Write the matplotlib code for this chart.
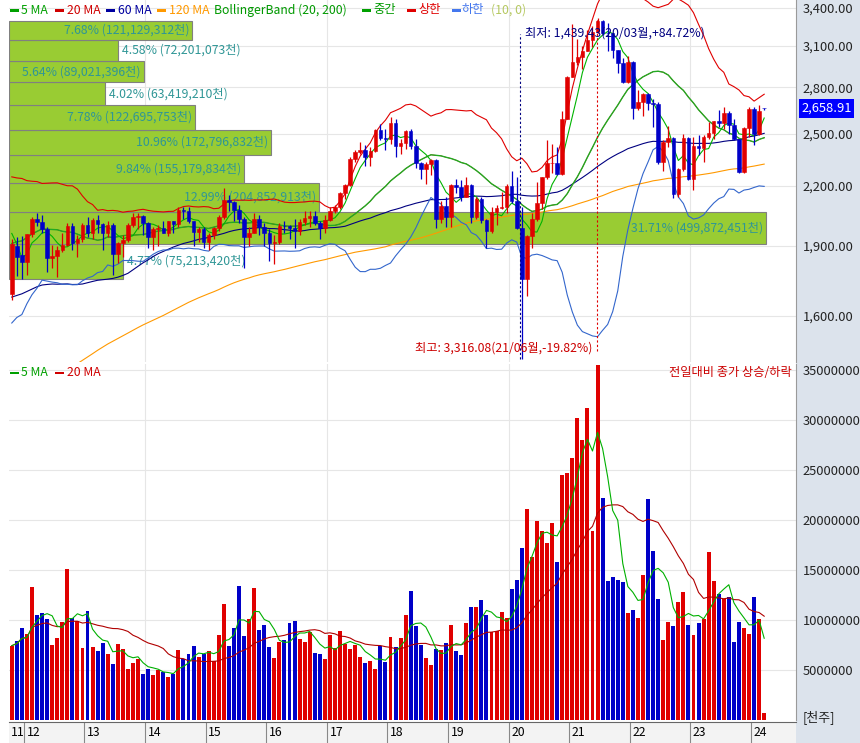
import matplotlib
matplotlib.use('Agg')
import matplotlib.pyplot as plt
from matplotlib.patches import Rectangle
import matplotlib.transforms as mtransforms
from matplotlib.ticker import FixedLocator, FuncFormatter, NullLocator
import numpy as np
import pandas as pd

plt.rcParams['font.family'] = ['Noto Sans CJK KR', 'DejaVu Sans']

# monthly closes before the first shown candle (2001/10 - 2011/09), only used for the long averages
history_close = [
    563, 672, 694,
    752, 818, 880, 871, 796, 743, 716, 719, 646, 672, 685, 628,
    591, 575, 535, 599, 634, 669, 707, 759, 697, 780, 796, 810,
    848, 880, 883, 862, 771, 785, 735, 803, 835, 834, 878, 896,
    932, 1011, 965, 912, 970, 1008, 1111, 1084, 1221, 1158, 1297, 1379,
    1399, 1371, 1360, 1420, 1318, 1295, 1298, 1352, 1371, 1364, 1432, 1434,
    1360, 1417, 1453, 1542, 1700, 1743, 1933, 1873, 1946, 2065, 1906, 1897,
    1625, 1712, 1704, 1825, 1852, 1674, 1595, 1474, 1448, 1113, 1076, 1124,
    1162, 1063, 1206, 1369, 1395, 1390, 1557, 1591, 1673, 1581, 1555, 1682,
    1602, 1594, 1692, 1741, 1641, 1698, 1759, 1742, 1872, 1882, 1904, 2051,
    2069, 1939, 2107, 2192, 2142, 2101, 2133, 1880, 1770,
]

months = pd.period_range('2011-10', '2024-03', freq='M')

opens = [
    1690, 1900, 1860,
    1826, 1955, 2030, 2014, 1981, 1843, 1854, 1881, 1905, 1996, 1912, 1932,
    1997, 1961, 2026, 2005, 1963, 2001, 1863, 1914, 1926, 1997, 2039, 2044,
    2011, 1941, 1980, 1985, 1961, 2017, 2002, 2076, 2068, 2020, 1964, 1981,
    1916, 1949, 1986, 2041, 2127, 2115, 2074, 2030, 1941, 1963, 2029, 1992,
    1961, 1912, 1917, 1996, 1994, 1983, 1970, 2016, 2034, 2043, 2008, 1983,
    2026, 2067, 2091, 2160, 2205, 2347, 2392, 2402, 2363, 2394, 2523, 2476,
    2467, 2566, 2427, 2445, 2515, 2423, 2326, 2295, 2322, 2343, 2030, 2097,
    2041, 2204, 2195, 2141, 2204, 2041, 2130, 2024, 1968, 2063, 2083, 2087,
    2197, 2119, 1987, 1754, 1947, 2030, 2108, 2249, 2326, 2327, 2267, 2591,
    2873, 2976, 3013, 3061, 3147, 3204, 3297, 3202, 3199, 3069, 2971, 2839,
    2977, 2663, 2699, 2757, 2695, 2686, 2333, 2452, 2472, 2155, 2294, 2473,
    2236, 2425, 2413, 2477, 2501, 2577, 2564, 2632, 2556, 2465, 2278, 2535,
    2655, 2497, 2660,
]
highs = [
    1930, 1940, 1945,
    1958, 2040, 2057, 2050, 1990, 1905, 1900, 1960, 2010, 2010, 1950, 2010,
    2040, 2035, 2050, 2010, 2020, 2010, 1920, 1950, 2010, 2060, 2060, 2050,
    2013, 1990, 2000, 2020, 2020, 2020, 2090, 2090, 2090, 2020, 1990, 1990,
    1960, 1990, 2050, 2190, 2150, 2120, 2100, 2040, 1990, 2060, 2050, 2010,
    1980, 1950, 2010, 2020, 2000, 2030, 2030, 2070, 2070, 2070, 2020, 2050,
    2090, 2100, 2170, 2210, 2360, 2400, 2450, 2430, 2420, 2530, 2560, 2530,
    2607, 2590, 2470, 2520, 2530, 2470, 2330, 2330, 2350, 2350, 2120, 2140,
    2210, 2240, 2230, 2250, 2210, 2140, 2140, 2030, 2090, 2100, 2170, 2210,
    2280, 2250, 2090, 1950, 2060, 2220, 2250, 2460, 2440, 2420, 2640, 2880,
    3266, 3150, 3100, 3220, 3250, 3316.08, 3305, 3280, 3200, 3070, 3010, 3020,
    2990, 2780, 2760, 2760, 2720, 2700, 2460, 2550, 2480, 2300, 2500, 2480,
    2480, 2490, 2490, 2570, 2580, 2650, 2670, 2640, 2590, 2470, 2540, 2670,
    2670, 2680, 2665,
]
lows = [
    1666, 1765, 1750,
    1770, 1940, 1995, 1960, 1782, 1800, 1760, 1870, 1900, 1880, 1850, 1920,
    1940, 1930, 1960, 1880, 1940, 1770, 1820, 1850, 1920, 1990, 1980, 1950,
    1890, 1880, 1900, 1960, 1945, 1960, 1990, 2030, 2010, 1900, 1920, 1890,
    1880, 1930, 1970, 2030, 2070, 2020, 2010, 1800, 1900, 1960, 1950, 1900,
    1830, 1817, 1910, 1960, 1930, 1892, 1950, 2000, 1990, 2000, 1930, 1960,
    2020, 2060, 2080, 2130, 2200, 2330, 2380, 2310, 2310, 2390, 2460, 2400,
    2440, 2360, 2380, 2410, 2410, 2300, 2240, 2210, 2260, 1985, 2010, 1990,
    1990, 2160, 2120, 2140, 2010, 2030, 2010, 1891, 1960, 2000, 2080, 2060,
    2110, 1980, 1439.43, 1680, 1890, 2020, 2080, 2240, 2270, 2260, 2260, 2590,
    2870, 2960, 2930, 3060, 3090, 3200, 3180, 3060, 3010, 2900, 2830, 2830,
    2591, 2650, 2610, 2650, 2540, 2320, 2280, 2420, 2134, 2140, 2280, 2230,
    2180, 2370, 2330, 2470, 2470, 2540, 2530, 2500, 2460, 2270, 2270, 2480,
    2430, 2490, 2650,
]
closes = [
    1909, 1848, 1826,
    1955, 2030, 2014, 1981, 1843, 1854, 1881, 1905, 1996, 1912, 1932, 1997,
    1961, 2026, 2005, 1963, 2001, 1863, 1914, 1926, 1997, 2039, 2044, 2011,
    1941, 1980, 1985, 1961, 2017, 2002, 2076, 2068, 2020, 1964, 1981, 1916,
    1949, 1986, 2041, 2127, 2115, 2074, 2030, 1941, 1963, 2029, 1992, 1961,
    1912, 1917, 1996, 1994, 1983, 1970, 2016, 2034, 2043, 2008, 1983, 2026,
    2067, 2091, 2160, 2205, 2347, 2392, 2402, 2363, 2394, 2523, 2476, 2467,
    2566, 2427, 2445, 2515, 2423, 2326, 2295, 2322, 2343, 2030, 2097, 2041,
    2204, 2195, 2141, 2204, 2041, 2130, 2024, 1968, 2063, 2083, 2087, 2197,
    2119, 1987, 1754, 1947, 2030, 2108, 2249, 2326, 2327, 2267, 2591, 2873,
    2976, 3013, 3061, 3147, 3204, 3297, 3202, 3199, 3069, 2971, 2839, 2977,
    2663, 2699, 2757, 2695, 2686, 2333, 2452, 2472, 2155, 2294, 2473, 2236,
    2425, 2413, 2477, 2501, 2577, 2564, 2632, 2556, 2465, 2278, 2535, 2655,
    2497, 2642, 2658.91,
]
# monthly volume, millions of [천주]
volume_m = [
    7.43, 7.87, 9.17,
    8.57, 13.30, 10.50, 10.70, 10.10, 7.50, 8.17, 9.77, 15.10, 10.17, 9.90, 7.17,
    10.87, 7.30, 6.90, 7.70, 6.60, 5.63, 7.60, 7.10, 5.10, 5.70, 6.10, 4.63,
    5.10, 4.53, 5.03, 4.77, 4.30, 4.57, 7.00, 6.10, 6.60, 7.43, 6.33, 6.63,
    6.90, 5.87, 8.50, 11.60, 7.37, 9.20, 13.40, 8.43, 10.10, 13.20, 9.03, 9.50,
    7.30, 6.20, 7.80, 8.00, 9.70, 9.90, 8.10, 7.80, 8.77, 6.70, 6.60, 6.10,
    8.50, 7.17, 8.87, 7.63, 7.10, 7.50, 6.30, 5.70, 5.90, 5.10, 7.43, 5.77,
    8.30, 7.27, 8.17, 10.50, 12.90, 9.43, 7.50, 6.17, 5.50, 7.10, 7.00, 7.70,
    9.50, 6.90, 6.50, 9.70, 11.30, 11.30, 12.00, 10.50, 8.83, 8.90, 10.77, 10.17,
    13.10, 14.03, 17.20, 21.10, 16.27, 19.90, 18.90, 17.73, 19.70, 15.83, 24.53, 24.70,
    26.23, 30.20, 28.00, 31.20, 18.87, 35.50, 22.17, 13.90, 14.30, 14.03, 13.80, 10.70,
    11.03, 10.23, 14.50, 22.07, 16.90, 12.13, 8.00, 9.77, 9.43, 11.80, 12.77, 9.50,
    8.50, 9.70, 10.10, 16.80, 13.90, 12.57, 12.10, 12.27, 7.77, 9.77, 9.17, 8.60,
    12.30, 10.10, 0.70,
]

# volume profile, lowest price band first
profile_pct = [4.77, 31.71, 12.99, 9.84, 10.96, 7.78, 4.02, 5.64, 4.58, 7.68]
profile_vol = [75213420, 499872451, 204852913, 155179834, 172796832,
               122695753, 63419210, 89021396, 72201073, 121129312]

price_ticks = [1600, 1900, 2200, 2500, 2800, 3100, 3400]
volume_ticks = [5000000, 10000000, 15000000, 20000000, 25000000, 30000000, 35000000]

n = len(months)
assert len(opens) == len(highs) == len(lows) == len(closes) == len(volume_m) == n
assert len(history_close) == 120

opens = np.array(opens, float)
highs = np.array(highs, float)
lows = np.array(lows, float)
closes = np.array(closes, float)
volumes = np.array(volume_m) * 1e6
idx = np.arange(n)

RED = '#E00000'
BLUE = '#0000C8'
FS = 8.8

W, H = 860, 743
L, R = 9, 796


def fx(p):
    return p / W


def fy(p):
    return 1 - p / H


fig = plt.figure(figsize=(W / 100, H / 100), dpi=100)
fig.add_artist(Rectangle((fx(R), 0), 1 - fx(R), 1, transform=fig.transFigure,
                         facecolor='#DCE3EC', edgecolor='none', zorder=-1))

ax = fig.add_axes([fx(L), fy(362), (R - L) / W, 362 / H])
axv = fig.add_axes([fx(L), fy(720), (R - L) / W, (720 - 364) / H], sharex=ax)
axs = fig.add_axes([fx(L), fy(743), (R - L) / W, (743 - 722) / H], sharex=ax)

xmin, xmax = -0.55, 155.3
ax.set_xlim(xmin, xmax)
px_per_unit = (R - L) / (xmax - xmin)

jan_idx = {m.year: i for i, m in enumerate(months) if m.month == 1}
grid_x = [jan_idx[y] - 0.6 for y in (2014, 2017, 2020, 2023)]

for a in (ax, axv):
    for s in ('left', 'top', 'bottom'):
        a.spines[s].set_visible(False)
    a.spines['right'].set_color('#9A9A9A')
    a.yaxis.tick_right()
    a.tick_params(axis='y', length=0, pad=5, labelsize=9.3, labelcolor='#222222')
    a.tick_params(axis='x', length=0, labelbottom=False)
    a.xaxis.set_major_locator(FixedLocator(grid_x))
    a.grid(True, color='#E6E6E6', lw=0.8)
    a.set_axisbelow(True)

# ---- price panel
ax.set_yscale('log')
ax.set_ylim(1430, 3467)
ax.yaxis.set_major_locator(FixedLocator(price_ticks))
ax.yaxis.set_minor_locator(NullLocator())
ax.yaxis.set_major_formatter(FuncFormatter(lambda v, p: f'{v:,.2f}'))

# volume profile bands
edges = np.linspace(closes.min(), closes.max(), 11)
span = 0.962 * (xmax - xmin)
for k in range(10):
    lo, hi = edges[k], edges[k + 1]
    length = profile_pct[k] / max(profile_pct) * span
    ax.add_patch(Rectangle((xmin, lo), length, hi - lo, facecolor='#99CC33',
                           edgecolor='#808080', lw=0.8, zorder=1))
    label = f'{profile_pct[k]:.2f}% ({profile_vol[k]:,}천)'
    ymid = np.sqrt(lo * hi)
    if length * px_per_unit > 126:
        ax.text(xmin + length - 3 / px_per_unit, ymid, label, ha='right', va='center',
                fontsize=FS, color='#2F9696', zorder=1.5)
    else:
        ax.text(xmin + length + 4 / px_per_unit, ymid, label, ha='left', va='center',
                fontsize=FS, color='#2F9696', zorder=1.5)

all_close = pd.Series(list(history_close) + list(closes))
nh = len(history_close)


def ma(p):
    return all_close.rolling(p).mean().values[nh:]


bb_mid = ma(20)
bb_std = all_close.rolling(20).std(ddof=0).values[nh:]

ax.plot(idx, ma(120), color='#FF9900', lw=0.8, zorder=2)
ax.plot(idx, ma(60), color='#000080', lw=0.8, zorder=2)
ax.plot(idx, bb_mid + 2 * bb_std, color='#E00000', lw=0.8, zorder=2)
ax.plot(idx, bb_mid - 2 * bb_std, color='#3366CC', lw=0.8, zorder=2)
ax.plot(idx, ma(20), color='#D00000', lw=0.5, zorder=2)
ax.plot(idx, bb_mid, color='#22AA22', lw=1.0, zorder=2)
ax.plot(idx, ma(5), color='#00B400', lw=0.8, zorder=2)

ccol = np.where(closes >= opens, RED, BLUE)
ax.vlines(idx, lows, highs, colors=ccol, lw=0.9, zorder=3)
ax.bar(idx, np.abs(closes - opens), bottom=np.minimum(opens, closes), width=0.7,
       color=ccol, edgecolor=ccol, lw=0.4, zorder=3)

# low / high markers
last = closes[-1]
lo_i = int(np.argmin(lows))
hi_i = int(np.argmax(highs))
lo_txt = f'최저: {lows[lo_i]:,.2f}({months[lo_i].strftime("%y/%m")}월,{(last / lows[lo_i] - 1) * 100:+.2f}%)'
hi_txt = f'최고: {highs[hi_i]:,.2f}({months[hi_i].strftime("%y/%m")}월,{(last / highs[hi_i] - 1) * 100:+.2f}%)'
ax.plot([lo_i - 0.4] * 2, [lows[lo_i], 3190], color='#000080', lw=0.8, ls=(0, (2, 2)), zorder=4)
ax.text(lo_i + 0.7, 3198, lo_txt, ha='left', va='center', fontsize=FS, color='#000080', zorder=4)
ax.plot([hi_i - 0.2] * 2, [1470, highs[hi_i]], color='#E00000', lw=0.8, ls=(0, (2, 2)), zorder=4)
ax.text(hi_i - 1.0, 1479, hi_txt, ha='right', va='center', fontsize=FS, color='#CC0000', zorder=4)

trans = mtransforms.blended_transform_factory(ax.transAxes, ax.transData)
ax.text(1.0065, last, f'{last:,.2f}', transform=trans, ha='left', va='center', fontsize=9.3,
        color='white', clip_on=False, zorder=5,
        bbox=dict(boxstyle='square,pad=0.2', facecolor='#0000FF', edgecolor='none'))

# ---- volume panel
prev_close = np.concatenate([[history_close[-1]], closes[:-1]])
vcol = np.where(closes >= prev_close, RED, BLUE)
axv.bar(idx, volumes, width=0.78, color=vcol, zorder=2)
vs = pd.Series(volumes)
axv.plot(idx, vs.rolling(20, min_periods=1).mean(), color='#B00000', lw=0.8, zorder=3)
axv.plot(idx, vs.rolling(5, min_periods=1).mean(), color='#00B000', lw=0.8, zorder=3)
axv.set_ylim(0, 35.6e6)
axv.yaxis.set_major_locator(FixedLocator(volume_ticks))
axv.yaxis.set_major_formatter(FuncFormatter(lambda v, p: f'{int(v)}'))

# ---- date strip
axs.set_facecolor('#F3F3F3')
axs.set_ylim(0, 1)
for s in ('left', 'right', 'bottom'):
    axs.spines[s].set_visible(False)
axs.spines['top'].set_color('#666666')
axs.tick_params(length=0, labelbottom=False, labelleft=False)
axs.grid(False)
axs.text(-0.2, 0.5, '11', ha='left', va='center', fontsize=FS)
for yr, i in jan_idx.items():
    axs.plot([i - 0.6, i - 0.6], [0, 1], color='#888888', lw=0.8)
    axs.text(i - 0.1, 0.5, f'{yr % 100:02d}', ha='left', va='center', fontsize=FS)

# ---- legends
legend_top = [
    (10, 21, '5 MA', '#00A000', '#00A000'),
    (55, 67, '20 MA', '#D00000', '#D00000'),
    (106, 118, '60 MA', '#0000A0', '#0000A0'),
    (157, 169, '120 MA', '#FF9900', '#FF9900'),
    (None, 214, 'BollingerBand (20, 200)', None, '#009900'),
    (362, 373, '중간', '#00A000', '#009900'),
    (407, 418, '상한', '#E00000', '#E00000'),
    (452, 462, '하한', '#4477EE', '#4477EE'),
    (None, 491, '(10, 0)', None, '#B5C860'),
]
legend_vol = [
    (10, 21, '5 MA', '#00A000', '#00A000'),
    (55, 67, '20 MA', '#D00000', '#D00000'),
]
for items, yy in ((legend_top, 10), (legend_vol, 373)):
    for xd, xt, txt, cd, ct in items:
        if xd is not None:
            fig.add_artist(Rectangle((fx(xd), fy(yy + 1.5)), 9 / W, 3 / H,
                                     transform=fig.transFigure, facecolor=cd,
                                     edgecolor='none', zorder=5))
        fig.text(fx(xt), fy(yy), txt, ha='left', va='center', fontsize=FS, color=ct, zorder=5)

fig.text(fx(792), fy(373), '전일대비 종가 상승/하락', ha='right', va='center',
         fontsize=FS, color='#CC0000', zorder=5)
fig.text(fx(803), fy(718), '[천주]', ha='left', va='center', fontsize=9.3, color='#222222')

fig.savefig('out.png', dpi=100)
